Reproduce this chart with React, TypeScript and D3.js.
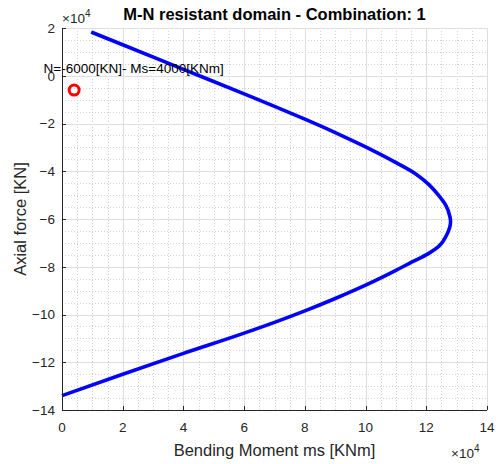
import React from 'react';
import * as d3 from 'd3';

const W = 496;
const H = 464;

// Interaction domain (values in 1e4 units)
const momentE4 = [0.96, 2, 4, 6, 7, 8, 9, 10, 11.02, 11.63, 12.07, 12.4, 12.64, 12.78, 12.8, 12.67, 12.4, 12.07, 11.5, 11.0, 10, 9, 8, 7, 6, 4, 2, 0];
const axialE4 = [1.83, 1.3, 0.27, -0.76, -1.28, -1.82, -2.38, -2.98, -3.65, -4.09, -4.54, -5.0, -5.42, -5.91, -6.1, -6.67, -7.16, -7.45, -7.82, -8.15, -8.77, -9.33, -9.85, -10.33, -10.78, -11.63, -12.5, -13.4];

// Design point
const pointM = [0.4];
const pointN = [-0.6];

const xTicks = [0, 2, 4, 6, 8, 10, 12, 14];
const yTicks = [2, 0, -2, -4, -6, -8, -10, -12, -14];
const xMinor = d3.range(0, 14.01, 0.5);
const yMinor = d3.range(-14, 2.01, 0.5);

const titleText = 'M-N resistant domain - Combination: 1';
const xLabel = 'Bending Moment ms [KNm]';
const yLabel = 'Axial force [KN]';
const annotation = 'N=-6000[KN]- Ms=4000[KNm]';
const annotationPos = [2.36, 0.1];

const FONT = '"Liberation Sans", Arial, Helvetica, sans-serif';
const AX = '#262626';

const fmt = (v: number) => (v < 0 ? '\u2212' + Math.abs(v) : String(v));

export default function App() {
  const left = 62, right = 487, top = 28, bottom = 410;
  const x = d3.scaleLinear().domain([0, 14]).range([left, right]);
  const y = d3.scaleLinear().domain([-14, 2]).range([bottom, top]);

  const pts: [number, number][] = momentE4.map((m, i) => [m, axialE4[i]]);
  const line = d3
    .line<[number, number]>()
    .x((d) => x(d[0]))
    .y((d) => y(d[1]))
    .curve(d3.curveMonotoneY);

  const cx = (v: number) => Math.round(x(v)) + 0.5;
  const cy = (v: number) => Math.round(y(v)) + 0.5;

  return (
    <div style={{ position: 'absolute', left: 0, top: 0 }}>
      <svg width={W} height={H} style={{ display: 'block', background: '#fff' }}>
        <rect x={0} y={0} width={W} height={H} fill="#fff" />
        {/* minor grid */}
        {xMinor.filter((v) => Math.abs(v % 2) > 1e-6).map((v) => (
          <line key={'xm' + v} x1={cx(v)} x2={cx(v)} y1={top} y2={bottom} stroke="#d2d2d2" strokeDasharray="1,2" />
        ))}
        {yMinor.filter((v) => Math.abs(v % 2) > 1e-6).map((v) => (
          <line key={'ym' + v} y1={cy(v)} y2={cy(v)} x1={left} x2={right} stroke="#d2d2d2" strokeDasharray="1,2" />
        ))}
        {/* major grid */}
        {xTicks.map((v) => (
          <line key={'xg' + v} x1={cx(v)} x2={cx(v)} y1={top} y2={bottom} stroke="#dedede" />
        ))}
        {yTicks.map((v) => (
          <line key={'yg' + v} y1={cy(v)} y2={cy(v)} x1={left} x2={right} stroke="#dedede" />
        ))}

        {/* curve */}
        <path d={line(pts) || ''} fill="none" stroke="#0000ff" strokeWidth={3.6} strokeLinejoin="round" />

        {/* design point */}
        {pointM.map((m, i) => (
          <circle key={'p' + i} cx={x(m)} cy={y(pointN[i])} r={5} fill="none" stroke="#ff0000" strokeWidth={3} />
        ))}

        {/* annotation */}
        <text x={x(annotationPos[0])} y={y(annotationPos[1])} textAnchor="middle" fontFamily={FONT} fontSize={13.5} fill="#000">
          {annotation}
        </text>

        {/* axes */}
        <line x1={left + 0.5} x2={left + 0.5} y1={top} y2={bottom + 0.5} stroke={AX} />
        <line x1={left} x2={right} y1={bottom + 0.5} y2={bottom + 0.5} stroke={AX} />
        {xTicks.map((v) => (
          <g key={'xt' + v}>
            <line x1={cx(v)} x2={cx(v)} y1={bottom} y2={bottom - 4} stroke={AX} />
            <text x={x(v)} y={432} textAnchor="middle" fontFamily={FONT} fontSize={13.5} fill={AX}>
              {fmt(v)}
            </text>
          </g>
        ))}
        {yTicks.map((v) => (
          <g key={'yt' + v}>
            <line x1={left} x2={left + 4} y1={cy(v)} y2={cy(v)} stroke={AX} />
            <text x={55} y={y(v) + 4.8} textAnchor="end" fontFamily={FONT} fontSize={13.5} fill={AX}>
              {fmt(v)}
            </text>
          </g>
        ))}

        {/* exponents */}
        <text x={62} y={23} fontFamily={FONT} fontSize={13.5} fill={AX}>
          {'\u00d710'}
          <tspan fontSize={10} dy={-6}>4</tspan>
        </text>
        <text x={451} y={458} fontFamily={FONT} fontSize={13.5} fill={AX}>
          {'\u00d710'}
          <tspan fontSize={10} dy={-6}>4</tspan>
        </text>

        {/* labels */}
        <text x={(left + right) / 2} y={20} textAnchor="middle" fontFamily={FONT} fontSize={16.5} fontWeight="bold" fill="#000">
          {titleText}
        </text>
        <text x={(left + right) / 2} y={456} textAnchor="middle" fontFamily={FONT} fontSize={16.5} fill={AX}>
          {xLabel}
        </text>
        <text transform={`translate(26, ${(top + bottom) / 2}) rotate(-90)`} textAnchor="middle" fontFamily={FONT} fontSize={16.5} fill={AX}>
          {yLabel}
        </text>
      </svg>
    </div>
  );
}
